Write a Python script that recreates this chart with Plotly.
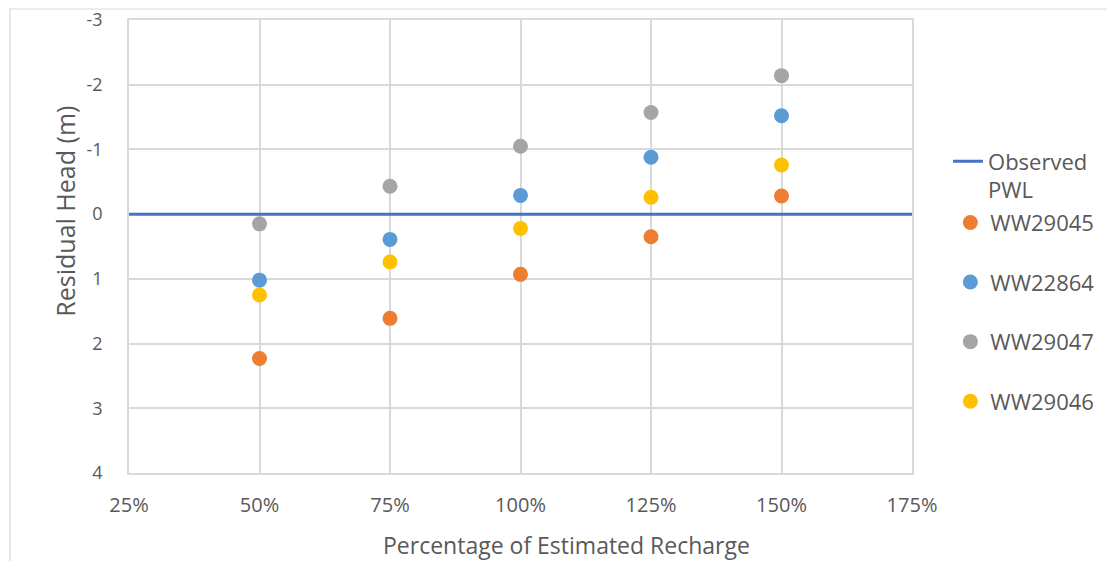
import plotly.graph_objects as go

recharge = [0.50, 0.75, 1.00, 1.25, 1.50]
ww29045 = [2.23, 1.61, 0.93, 0.35, -0.28]
ww22864 = [1.02, 0.39, -0.29, -0.88, -1.52]
ww29047 = [0.15, -0.43, -1.05, -1.57, -2.14]
ww29046 = [1.25, 0.74, 0.22, -0.26, -0.76]
pwl_x = [0.25, 1.75]
pwl_y = [0, 0]
y_ticks = [-3, -2, -1, 0, 1, 2, 3, 4]
y_ticklabels = ["-3", "-2", "-1", "0", "1", "2", "3", "4"]

series = [
    ("WW29045", ww29045, "#ED7D31"),
    ("WW22864", ww22864, "#5B9BD5"),
    ("WW29047", ww29047, "#A5A5A5"),
    ("WW29046", ww29046, "#FFC000"),
]

FONT = "Open Sans"
TXT = "#595959"
GRID = "#D9D9D9"

fig = go.Figure()
fig.add_trace(go.Scatter(
    x=pwl_x, y=pwl_y, mode="lines", name="Observed<br>PWL",
    line=dict(color="#4472C4", width=3), legend="legend", showlegend=True,
))
for name, vals, col in series:
    fig.add_trace(go.Scatter(
        x=recharge, y=vals, mode="markers", name=name,
        marker=dict(color=col, size=15, line=dict(width=0)),
        legend="legend2", legendgroup=name, showlegend=True,
    ))

# page body has an 8px margin; figure size / margins compensate for it
fig.update_layout(
    width=1107, height=553, showlegend=True,
    margin=dict(l=121, r=203, t=12, b=88, autoexpand=False),
    paper_bgcolor="white", plot_bgcolor="white",
    font=dict(family=FONT, color=TXT, size=20),
    legend=dict(x=1.046, y=0.734, xanchor="left", yanchor="top",
                valign="top", font=dict(size=22, color=TXT),
                bgcolor="rgba(0,0,0,0)"),
    legend2=dict(x=1.049, y=0.599, xanchor="left", yanchor="top",
                 font=dict(size=22, color=TXT), tracegroupgap=28,
                 bgcolor="rgba(0,0,0,0)"),
    xaxis=dict(
        range=[0.25, 1.75], dtick=0.25, tick0=0.25, tickformat=".0%",
        showgrid=True, gridcolor=GRID, gridwidth=1.5,
        showline=True, linecolor=GRID, linewidth=1.5, mirror=True,
        zeroline=False, ticks="", ticklabelstandoff=13, automargin=False,
        ticklabeloverflow="allow",
        tickfont=dict(size=20, color=TXT),
    ),
    yaxis=dict(
        range=[4, -3], tickvals=y_ticks, ticktext=y_ticklabels,
        showgrid=True, gridcolor=GRID, gridwidth=1.5,
        showline=True, linecolor=GRID, linewidth=1.5, mirror=True,
        zeroline=False, ticks="", ticklabelstandoff=21, automargin=False,
        ticklabeloverflow="allow",
        tickfont=dict(size=18, color=TXT),
    ),
    annotations=[
        dict(text="Percentage of Estimated Recharge", xref="paper", yref="paper",
             x=0.559, y=-0.159, xanchor="center", yanchor="middle",
             showarrow=False, font=dict(size=23, color=TXT)),
        dict(text="Residual Head (m)", xref="paper", yref="paper",
             x=-0.0817, y=0.577, xanchor="center", yanchor="middle",
             textangle=-90, showarrow=False, font=dict(size=25, color=TXT)),
    ],
    shapes=[dict(type="rect", xref="paper", yref="paper",
                 x0=-0.152, x1=1.3, y0=-0.4, y1=1.0243,
                 line=dict(color=GRID, width=1.2), layer="below")],
)

fig.write_html("out.html")
